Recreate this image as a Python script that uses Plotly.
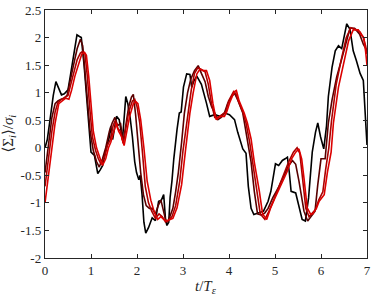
import plotly.graph_objects as go

# ---------------- data ----------------
t_black = [0.00, 0.05, 0.10, 0.18, 0.237, 0.29, 0.358, 0.42, 0.50, 0.55, 0.61, 0.695, 0.75, 0.789,
           0.85, 0.896, 0.95, 1.00, 1.075, 1.147, 1.20, 1.254, 1.326, 1.40, 1.43, 1.47, 1.555, 1.613,
           1.685, 1.756, 1.80, 1.85, 1.90, 1.95, 1.99, 2.04, 2.07, 2.11, 2.15, 2.19, 2.25, 2.33, 2.40,
           2.47, 2.53, 2.58, 2.62, 2.65, 2.69, 2.72, 2.76, 2.80, 2.87, 2.92, 2.96, 3.01, 3.08, 3.15,
           3.19, 3.23, 3.30, 3.40, 3.51, 3.58, 3.69, 3.80, 3.91, 4.01, 4.12, 4.19, 4.30, 4.37, 4.42,
           4.48, 4.54, 4.64, 4.75, 4.85, 4.91, 4.98, 5.01, 5.08, 5.16, 5.22, 5.27, 5.31, 5.35, 5.45,
           5.52, 5.59, 5.66, 5.73, 5.81, 5.88, 5.93, 5.99, 6.06, 6.12, 6.16, 6.24, 6.31, 6.38, 6.45,
           6.50, 6.56, 6.63, 6.70, 6.77, 6.85, 6.92, 6.96, 7.00]
v_black = [0.00, 0.15, 0.45, 0.95, 1.20, 1.10, 0.96, 0.98, 1.05, 1.30, 1.64, 2.05, 2.02, 2.00,
           1.50, 1.05, 0.45, -0.08, -0.14, -0.47, -0.40, -0.32, -0.02, 0.20, 0.39, 0.15, 0.57, 0.51,
           0.15, 0.93, 0.80, 0.55, 0.20, -0.25, -0.45, -0.58, -0.50, -0.85, -1.35, -1.55, -1.45, -1.27, -1.32,
           -0.97, -0.95, -0.85, -1.30, -1.41, -1.35, -0.90, -0.60, -0.20, 0.33, 0.63, 0.65, 1.10, 1.34, 1.33,
           1.10, 1.20, 1.30, 1.15, 0.81, 0.57, 0.60, 0.57, 0.63, 0.60, 0.51, 0.28, -0.02, -0.10, -0.70,
           -1.10, -1.21, -1.18, -1.15, -0.97, -0.79, -0.44, -0.29, -0.32, -0.23, -0.20, -0.17, -0.44, -0.79, -0.82,
           -1.09, -1.30, -1.33, -0.91, -0.08, 0.28, 0.45, 0.20, -0.02, 0.40, 0.93, 1.46, 1.76, 1.85, 1.80,
           2.00, 2.25, 2.15, 1.76, 1.58, 1.35, 1.22, 0.70, 0.05]

t_maroon = [0.00, 0.08, 0.15, 0.22, 0.28, 0.35, 0.42, 0.48, 0.55, 0.62, 0.70, 0.77, 0.82, 0.87,
            0.93, 0.98, 1.05, 1.12, 1.18, 1.25, 1.32, 1.40, 1.46, 1.52, 1.58, 1.64, 1.70, 1.76,
            1.82, 1.88, 1.92, 1.97, 2.03, 2.08, 2.14, 2.20, 2.27, 2.33, 2.40, 2.46, 2.52, 2.56,
            2.62, 2.67, 2.72, 2.78, 2.84, 2.90, 2.97, 3.03, 3.10, 3.17, 3.25, 3.33, 3.40, 3.48,
            3.55, 3.62, 3.69, 3.76, 3.83, 3.90, 3.97, 4.05, 4.12, 4.20, 4.30, 4.37, 4.48, 4.55,
            4.62, 4.71, 4.78, 4.85, 4.95, 5.07, 5.20, 5.30, 5.38, 5.45, 5.52, 5.58, 5.63, 5.71,
            5.78, 5.87, 5.93, 6.00, 6.09, 6.16, 6.24, 6.34, 6.45, 6.52, 6.63, 6.73, 6.84, 6.92, 7.00]
v_maroon = [-0.45, 0.10, 0.55, 0.80, 0.85, 0.88, 0.90, 0.95, 1.20, 1.50, 1.80, 1.97, 1.85, 1.40,
            0.80, 0.30, -0.05, -0.25, -0.35, -0.20, 0.00, 0.30, 0.45, 0.55, 0.40, 0.45, 0.10, 0.45,
            0.75, 0.92, 0.97, 0.60, 0.00, -0.45, -0.85, -1.05, -1.10, -1.10, -1.20, -1.05, -0.95, -1.10,
            -1.30, -1.35, -1.25, -1.10, -0.80, -0.44, 0.10, 0.63, 1.00, 1.25, 1.40, 1.49, 1.35, 1.20,
            0.93, 0.75, 0.63, 0.51, 0.55, 0.63, 0.80, 0.92, 0.99, 0.85, 0.63, 0.28, -0.26, -0.79,
            -1.20, -1.22, -1.18, -1.10, -0.91, -0.73, -0.49, -0.32, -0.23, -0.30, -0.60, -0.95, -1.15, -1.33,
            -1.25, -1.15, -0.67, -0.20, -0.20, 0.45, 0.87, 1.28, 1.61, 1.82, 2.17, 2.17, 2.06, 1.88, 1.76]

t_red1 = [0.00, 0.08, 0.15, 0.22, 0.28, 0.36, 0.44, 0.50, 0.56, 0.63, 0.70, 0.77, 0.82, 0.87,
          0.92, 0.97, 1.03, 1.10, 1.16, 1.22, 1.30, 1.36, 1.42, 1.48, 1.53, 1.58, 1.64, 1.70,
          1.76, 1.82, 1.90, 1.95, 2.00, 2.06, 2.12, 2.18, 2.25, 2.32, 2.40, 2.48, 2.55, 2.62,
          2.70, 2.76, 2.84, 2.93, 3.00, 3.06, 3.12, 3.18, 3.25, 3.32, 3.40, 3.48, 3.55, 3.62,
          3.69, 3.76, 3.85, 3.93, 3.99, 4.05, 4.10, 4.15, 4.20, 4.30, 4.37, 4.45, 4.52, 4.60,
          4.68, 4.78, 4.87, 4.97, 5.08, 5.20, 5.30, 5.40, 5.48, 5.54, 5.60, 5.67, 5.74, 5.80,
          5.88, 5.95, 6.04, 6.10, 6.17, 6.23, 6.33, 6.44, 6.55, 6.65, 6.75, 6.85, 6.92, 6.97, 7.00]
v_red1 = [-0.70, -0.15, 0.30, 0.65, 0.82, 0.88, 0.92, 0.95, 1.15, 1.40, 1.60, 1.72, 1.75, 1.70,
          1.30, 0.75, 0.20, -0.05, -0.20, -0.30, -0.15, 0.05, 0.15, 0.40, 0.50, 0.35, 0.30, 0.08,
          0.35, 0.65, 0.85, 0.88, 0.75, 0.45, -0.10, -0.70, -1.00, -1.15, -1.28, -1.20, -1.25, -1.35,
          -1.30, -1.25, -1.05, -0.60, -0.05, 0.35, 0.70, 1.05, 1.35, 1.45, 1.42, 1.38, 1.15, 0.80,
          0.55, 0.55, 0.60, 0.65, 0.85, 0.95, 1.02, 0.98, 0.85, 0.65, 0.45, 0.10, -0.30, -0.80,
          -1.20, -1.30, -1.15, -0.95, -0.72, -0.45, -0.25, -0.08, 0.00, -0.10, -0.60, -1.10, -1.25, -1.20,
          -1.12, -0.95, -0.80, -0.40, 0.00, 0.50, 1.15, 1.60, 2.00, 2.18, 2.15, 2.10, 2.00, 1.85, 1.70]

t_red2 = [0.00, 0.08, 0.15, 0.22, 0.30, 0.38, 0.45, 0.52, 0.58, 0.65, 0.72, 0.80, 0.86, 0.90,
          0.95, 1.00, 1.05, 1.12, 1.18, 1.25, 1.32, 1.38, 1.43, 1.50, 1.55, 1.60, 1.66, 1.72,
          1.78, 1.84, 1.92, 1.97, 2.02, 2.08, 2.15, 2.22, 2.30, 2.37, 2.45, 2.52, 2.58, 2.65,
          2.72, 2.78, 2.87, 2.97, 3.05, 3.10, 3.15, 3.22, 3.30, 3.37, 3.44, 3.51, 3.58, 3.65,
          3.72, 3.80, 3.90, 3.95, 4.01, 4.08, 4.12, 4.16, 4.22, 4.33, 4.40, 4.48, 4.55, 4.66,
          4.73, 4.82, 4.90, 5.00, 5.12, 5.26, 5.36, 5.45, 5.52, 5.58, 5.63, 5.70, 5.77, 5.82,
          5.90, 5.96, 6.07, 6.14, 6.22, 6.27, 6.38, 6.49, 6.60, 6.70, 6.81, 6.88, 6.93, 6.97, 7.00]
v_red2 = [-1.00, -0.45, 0.05, 0.45, 0.80, 0.85, 0.90, 0.88, 1.05, 1.30, 1.50, 1.70, 1.73, 1.68,
          1.30, 0.80, 0.30, 0.00, -0.14, -0.32, -0.20, 0.00, 0.10, 0.33, 0.45, 0.30, 0.21, 0.04,
          0.30, 0.57, 0.80, 0.84, 0.80, 0.51, 0.00, -0.60, -0.95, -1.15, -1.30, -1.25, -1.30, -1.33,
          -1.30, -1.28, -1.09, -0.67, -0.08, 0.30, 0.63, 0.99, 1.34, 1.43, 1.40, 1.40, 1.22, 0.81,
          0.51, 0.57, 0.57, 0.65, 0.81, 0.95, 1.02, 1.04, 0.85, 0.63, 0.45, 0.16, -0.26, -0.79,
          -1.20, -1.30, -1.10, -0.91, -0.70, -0.44, -0.20, -0.08, -0.02, -0.20, -0.55, -1.09, -1.20, -1.20,
          -1.10, -0.97, -0.85, -0.44, -0.08, 0.45, 1.10, 1.52, 1.94, 2.14, 2.14, 2.05, 2.00, 1.75, 1.50]

x_tickvals = [0, 1, 2, 3, 4, 5, 6, 7]
x_ticktext = ["0", "1", "2", "3", "4", "5", "6", "7"]
y_tickvals = [-2, -1.5, -1, -0.5, 0, 0.5, 1, 1.5, 2, 2.5]
y_ticktext = ["-2", "-1.5", "-1", "-0.5", "0", "0.5", "1", "1.5", "2", "2.5"]

series = [
    (t_black, v_black, "#000000"),
    (t_maroon, v_maroon, "#580000"),
    (t_red1, v_red1, "#a80000"),
    (t_red2, v_red2, "#dc0000"),
]

# ---------------- figure ----------------
fig = go.Figure()
for tx, vy, col in series:
    fig.add_trace(go.Scatter(x=tx, y=vy, mode="lines",
                             line=dict(color=col, width=1.6),
                             showlegend=False, hoverinfo="skip"))

FONT = "Liberation Serif, Times New Roman, DejaVu Serif, serif"
axis_common = dict(showline=True, linecolor="#262626", linewidth=1.2, mirror="ticks",
                   ticks="inside", ticklen=4, tickwidth=1, tickcolor="#262626",
                   showgrid=False, zeroline=False, ticklabeloverflow="allow",
                   tickfont=dict(family=FONT, size=13, color="#262626"))

fig.update_xaxes(range=[0, 7], tickvals=x_tickvals, ticktext=x_ticktext, **axis_common)
fig.update_yaxes(range=[-2, 2.5], tickvals=y_tickvals, ticktext=y_ticktext, **axis_common)

fig.add_annotation(text="<i>t</i>/<i>T</i><sub><i>ε</i></sub>", xref="paper", yref="paper",
                   x=0.5, y=-0.115, xanchor="center", yanchor="middle", showarrow=False,
                   font=dict(family=FONT, size=15, color="#262626"))
fig.add_annotation(text="⟨Σ<sub><i>i</i></sub>⟩/<i>σ</i><sub><i>i</i></sub>", xref="paper", yref="paper",
                   x=-0.113, y=0.5, xanchor="center", yanchor="middle", textangle=-90,
                   showarrow=False, font=dict(family=FONT, size=15, color="#262626"))

fig.update_layout(width=374, height=295, margin=dict(l=45, r=3, t=5, b=37),
                  plot_bgcolor="white", paper_bgcolor="white")

fig.write_html("out.html", config={"displayModeBar": False, "staticPlot": True},
               post_script="document.body.style.margin='0px';document.body.style.padding='0px';")
